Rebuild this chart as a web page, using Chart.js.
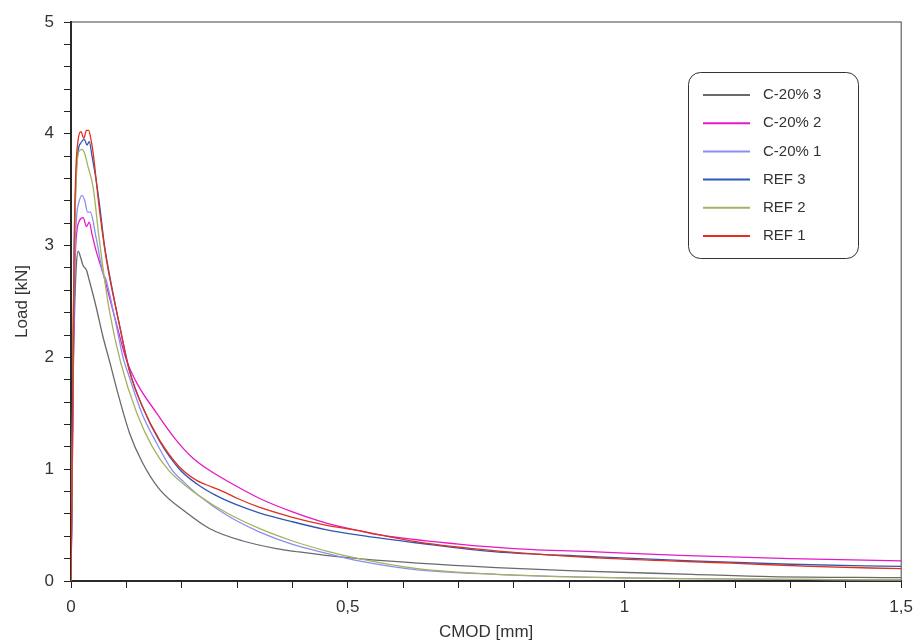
<!DOCTYPE html>
<html>
<head>
<meta charset="utf-8">
<script src="https://cdn.jsdelivr.net/npm/chart.js@4/dist/chart.umd.min.js"></script>
<style>
  html, body { margin: 0; padding: 0; background: #fff; }
  #c { display: block; }
</style>
</head>
<body>
<canvas id="c" width="922" height="643"></canvas>
<script>
// CMOD [mm] vs Load [kN]
const ref1 = [[0,0],[0.002,1.0],[0.004,2.2],[0.006,3.1],[0.009,3.7],[0.013,3.95],[0.018,4.02],[0.023,3.96],[0.028,4.03],[0.032,4.03],[0.036,3.95],[0.040,3.83],[0.050,3.38],[0.060,3.0],[0.068,2.76],[0.088,2.28],[0.106,1.87],[0.129,1.56],[0.160,1.26],[0.196,1.02],[0.227,0.90],[0.255,0.84],[0.275,0.80],[0.30,0.74],[0.34,0.66],[0.40,0.57],[0.46,0.50],[0.52,0.45],[0.626,0.35],[0.768,0.27],[0.98,0.20],[1.194,0.16],[1.336,0.13],[1.5,0.11]];
const ref2 = [[0,0],[0.002,1.0],[0.004,2.3],[0.007,3.2],[0.010,3.65],[0.014,3.84],[0.020,3.86],[0.025,3.82],[0.030,3.72],[0.040,3.52],[0.050,3.10],[0.060,2.72],[0.070,2.40],[0.090,1.95],[0.119,1.50],[0.147,1.20],[0.178,0.98],[0.191,0.92],[0.232,0.76],[0.281,0.61],[0.340,0.47],[0.399,0.36],[0.46,0.27],[0.52,0.20],[0.626,0.11],[0.768,0.06],[0.98,0.03],[1.5,0.01]];
const ref3 = [[0,0],[0.002,1.0],[0.004,2.2],[0.006,3.0],[0.009,3.6],[0.013,3.85],[0.018,3.92],[0.024,3.95],[0.029,3.90],[0.033,3.93],[0.038,3.80],[0.045,3.60],[0.052,3.35],[0.060,3.02],[0.068,2.78],[0.088,2.28],[0.106,1.88],[0.129,1.56],[0.160,1.25],[0.196,1.00],[0.227,0.87],[0.26,0.77],[0.30,0.68],[0.34,0.61],[0.40,0.53],[0.46,0.46],[0.52,0.41],[0.626,0.34],[0.768,0.26],[0.937,0.22],[1.122,0.18],[1.3,0.15],[1.5,0.13]];
const c20_1 = [[0,0],[0.002,0.9],[0.004,2.0],[0.007,2.9],[0.010,3.25],[0.015,3.40],[0.020,3.45],[0.025,3.40],[0.030,3.30],[0.035,3.30],[0.045,3.08],[0.058,2.75],[0.063,2.70],[0.080,2.33],[0.095,1.98],[0.103,1.86],[0.128,1.50],[0.155,1.23],[0.183,0.99],[0.205,0.88],[0.232,0.76],[0.281,0.59],[0.340,0.44],[0.399,0.33],[0.46,0.25],[0.52,0.18],[0.626,0.10],[0.768,0.06],[0.98,0.03],[1.5,0.01]];
const c20_2 = [[0,0],[0.002,0.8],[0.004,1.9],[0.007,2.8],[0.010,3.1],[0.015,3.22],[0.022,3.25],[0.028,3.17],[0.033,3.21],[0.038,3.10],[0.045,2.96],[0.058,2.75],[0.080,2.34],[0.100,1.98],[0.119,1.77],[0.155,1.50],[0.190,1.26],[0.220,1.10],[0.250,0.99],[0.291,0.87],[0.340,0.74],[0.399,0.62],[0.460,0.52],[0.52,0.45],[0.56,0.41],[0.70,0.33],[0.80,0.29],[0.95,0.26],[1.1,0.23],[1.3,0.20],[1.5,0.18]];
const c20_3 = [[0,0],[0.002,0.8],[0.004,1.8],[0.007,2.5],[0.010,2.85],[0.013,2.95],[0.017,2.90],[0.022,2.82],[0.028,2.78],[0.033,2.69],[0.045,2.46],[0.058,2.18],[0.070,1.96],[0.083,1.71],[0.106,1.32],[0.129,1.06],[0.160,0.82],[0.209,0.61],[0.250,0.47],[0.309,0.36],[0.371,0.29],[0.412,0.26],[0.46,0.23],[0.52,0.20],[0.626,0.16],[0.768,0.12],[0.91,0.09],[1.122,0.06],[1.264,0.04],[1.5,0.03]];

const seriesNames = ['REF 1', 'REF 2', 'REF 3', 'C-20% 1', 'C-20% 2', 'C-20% 3'];
const seriesData = [ref1, ref2, ref3, c20_1, c20_2, c20_3];
const seriesColors = ['#e0301e', '#a3b35f', '#2f58b4', '#8b8ef0', '#e41ac6', '#6a6a6a'];

const xTickLabels = { 0: '0', 5: '0,5', 10: '1', 15: '1,5' };

const FONT = '"Liberation Sans", Arial, sans-serif';

// rounded legend box inside the plot, listed bottom-up like the original
const boxLegend = {
  id: 'boxLegend',
  afterDraw(chart) {
    const ctx = chart.ctx;
    const x0 = 688, y0 = 72, w = 170, h = 186, r = 12;
    ctx.save();
    ctx.fillStyle = '#fff';
    ctx.strokeStyle = '#333';
    ctx.lineWidth = 1;
    ctx.beginPath();
    ctx.roundRect(x0 + 0.5, y0 + 0.5, w, h, r);
    ctx.fill();
    ctx.stroke();
    ctx.font = '15px ' + FONT;
    ctx.textBaseline = 'middle';
    const n = chart.data.datasets.length;
    for (let i = 0; i < n; i++) {
      const ds = chart.data.datasets[n - 1 - i];
      const y = y0 + 23 + i * 28.2;
      ctx.strokeStyle = ds.borderColor;
      ctx.lineWidth = 2;
      ctx.beginPath();
      ctx.moveTo(703, y);
      ctx.lineTo(750, y);
      ctx.stroke();
      ctx.fillStyle = '#333';
      ctx.fillText(ds.label, 763, y);
    }
    ctx.restore();
  }
};

const frame = {
  id: 'frame',
  beforeDatasetsDraw(chart) {
    const a = chart.chartArea, ctx = chart.ctx;
    ctx.save();
    ctx.strokeStyle = '#444';
    ctx.lineWidth = 1;
    ctx.strokeRect(a.left, a.top, a.right - a.left, a.bottom - a.top);
    ctx.restore();
  }
};

new Chart(document.getElementById('c'), {
  type: 'scatter',
  data: {
    datasets: seriesNames.map((name, i) => ({
      label: name,
      data: seriesData[i].map(p => ({ x: p[0], y: p[1] })),
      showLine: true,
      borderColor: seriesColors[i],
      backgroundColor: seriesColors[i],
      borderWidth: 1.3,
      pointRadius: 0,
      tension: 0.3,
      cubicInterpolationMode: 'monotone'
    }))
  },
  options: {
    responsive: false,
    animation: false,
    layout: { padding: { left: 0, top: 22, right: 17, bottom: 0 } },
    plugins: { legend: { display: false }, tooltip: { enabled: false } },
    scales: {
      x: {
        type: 'linear', min: 0, max: 1.5,
        afterFit: s => { s.height = 62; },
        ticks: {
          stepSize: 0.1, autoSkip: false, maxRotation: 0, padding: 9,
          color: '#333', font: { family: FONT, size: 17 },
          callback: v => xTickLabels[Math.round(v * 10)] ?? ''
        },
        grid: { drawOnChartArea: false, tickLength: 7, color: '#222' },
        border: { color: '#111', width: 2 },
        title: { display: true, text: 'CMOD [mm]', color: '#333', font: { family: FONT, size: 17 }, padding: { top: 0, bottom: 0 } }
      },
      y: {
        type: 'linear', min: 0, max: 5,
        afterFit: s => { s.width = 71; },
        ticks: {
          stepSize: 0.2, autoSkip: false, padding: 10,
          color: '#333', font: { family: FONT, size: 17 },
          callback: v => Math.abs(v - Math.round(v)) < 1e-6 ? String(Math.round(v)) : ''
        },
        grid: { drawOnChartArea: false, tickLength: 7, color: '#222' },
        border: { color: '#111', width: 2 },
        title: { display: true, text: 'Load [kN]', color: '#333', font: { family: FONT, size: 17 }, padding: { top: 12, bottom: 4 } }
      }
    }
  },
  plugins: [frame, boxLegend]
});
</script>
</body>
</html>
